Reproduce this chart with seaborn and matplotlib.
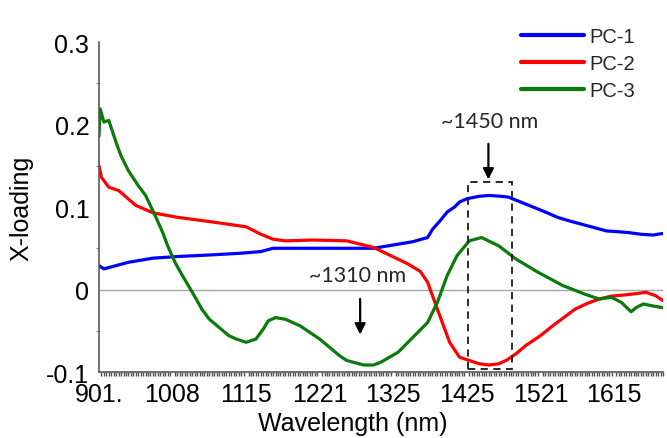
import matplotlib
matplotlib.use("Agg")
import matplotlib.pyplot as plt
import seaborn as sns
import pandas as pd
from matplotlib.ticker import MultipleLocator, FixedLocator, FixedFormatter

# x is the band index (the original is a category axis of spectral bands)
tick_bands = [0, 30, 60, 90, 120, 150, 180, 210]
tick_labels = ['901.', '1008', '1115', '1221', '1325', '1425', '1521', '1615']
y_ticks = [-0.1, 0, 0.1, 0.2, 0.3]
y_labels = ['-0.1', '0', '0.1', '0.2', '0.3']

pc1_band = [0, 2, 12, 22, 32, 46, 58, 66, 71, 76, 90, 112, 118, 128, 134, 136,
            139, 142, 145, 147, 150, 155, 159, 164, 167, 172, 177, 182, 187, 192,
            197, 202, 207, 212, 216, 221, 226, 230]
pc1_val = [0.029, 0.025, 0.033, 0.038, 0.040, 0.042, 0.044, 0.046, 0.050, 0.050,
           0.050, 0.050, 0.053, 0.058, 0.063, 0.073, 0.083, 0.094, 0.100, 0.106,
           0.110, 0.113, 0.114, 0.113, 0.112, 0.106, 0.100, 0.094, 0.0875, 0.083,
           0.079, 0.075, 0.071, 0.070, 0.069, 0.067, 0.066, 0.068]

pc2_band = [0, 1, 4, 8, 15, 22, 32, 46, 60, 66, 71, 76, 87, 101, 112, 119, 126,
            131, 134, 136, 139, 143, 147, 151, 155, 159, 163, 166, 170, 174, 180,
            185, 190, 194, 199, 204, 209, 214, 219, 223, 227, 230]
pc2_val = [0.150, 0.136, 0.124, 0.120, 0.102, 0.093, 0.0875, 0.082, 0.076, 0.067,
           0.061, 0.059, 0.060, 0.059, 0.051, 0.041, 0.031, 0.022, 0.009, -0.0075,
           -0.032, -0.064, -0.082, -0.086, -0.090, -0.0915, -0.090, -0.086, -0.078,
           -0.068, -0.056, -0.044, -0.033, -0.024, -0.017, -0.0115, -0.008, -0.0067,
           -0.005, -0.0034, -0.0075, -0.0135]

pc3_band = [0, 0.5, 2, 4, 7, 9, 12, 16, 19, 23, 26, 28, 31, 34, 38, 42, 45, 49,
            53, 56, 60, 64, 67, 69, 72, 76, 82, 90, 98, 101, 108, 112, 115, 122,
            128, 134, 138, 142, 146, 151, 156, 163, 170, 179, 189, 198, 204, 209,
            213, 217, 219, 222, 226, 230]
pc3_val = [0.186, 0.219, 0.203, 0.205, 0.178, 0.162, 0.144, 0.126, 0.114, 0.089,
           0.069, 0.053, 0.033, 0.017, -0.003, -0.024, -0.036, -0.046, -0.056,
           -0.060, -0.064, -0.060, -0.048, -0.038, -0.034, -0.036, -0.044, -0.060,
           -0.080, -0.086, -0.0915, -0.0915, -0.088, -0.076, -0.058, -0.040,
           -0.0155, 0.017, 0.041, 0.059, 0.063, 0.053, 0.037, 0.021, 0.005,
           -0.0055, -0.0115, -0.0095, -0.0155, -0.027, -0.022, -0.0175, -0.020,
           -0.022]

series_names = ['PC-1', 'PC-2', 'PC-3']
colors = {'PC-1': '#0000ff', 'PC-2': '#ff0000', 'PC-3': '#0a7a0a'}

df = pd.concat([
    pd.DataFrame({'band': pc1_band, 'loading': pc1_val, 'PC': 'PC-1'}),
    pd.DataFrame({'band': pc2_band, 'loading': pc2_val, 'PC': 'PC-2'}),
    pd.DataFrame({'band': pc3_band, 'loading': pc3_val, 'PC': 'PC-3'}),
])

sns.set_style("white")
plt.rcParams['font.family'] = ['Liberation Sans', 'DejaVu Sans']

fig = plt.figure(figsize=(6.67, 4.39), dpi=100)
ax = fig.add_axes([0.1484, 0.1503, 0.8456, 0.7517])

sns.lineplot(data=df, x='band', y='loading', hue='PC', hue_order=series_names,
             palette=colors, lw=2.3, estimator=None, ax=ax)

ax.axhline(0, color='#a6a6a6', lw=1, zorder=0)

ax.set_xlim(0, 230)
ax.set_ylim(-0.1, 0.3)
ax.xaxis.set_major_locator(FixedLocator(tick_bands))
ax.xaxis.set_major_formatter(FixedFormatter(tick_labels))
ax.xaxis.set_minor_locator(MultipleLocator(1))
ax.yaxis.set_major_locator(FixedLocator(y_ticks))
ax.yaxis.set_major_formatter(FixedFormatter(y_labels))
ax.yaxis.set_minor_locator(MultipleLocator(0.05))
ax.tick_params(axis='both', which='major', labelsize=18, colors='#595959',
               labelcolor='black', direction='out', length=4, width=1, pad=3)
ax.tick_params(axis='x', which='minor', direction='out', length=3, width=1,
               colors='#505050', bottom=True)
ax.tick_params(axis='y', which='minor', direction='out', length=2, width=0.8,
               colors='#808080', left=True)

sns.despine(ax=ax)
for side in ['left', 'bottom']:
    ax.spines[side].set_color('#595959')
    ax.spines[side].set_linewidth(1.2)

ax.set_xlabel('Wavelength (nm)', fontsize=18, color='black')
ax.set_ylabel('X-loading', fontsize=18, color='black')
ax.xaxis.set_label_coords(0.45, -0.117)
ax.yaxis.set_label_coords(-0.117, 0.5)

# dashed box around the ~1450 nm feature
ax.add_patch(plt.Rectangle((150.6, -0.096), 18, 0.226, fill=False, ls=(0, (4, 3)),
                           lw=1.3, edgecolor='#1a1a1a', zorder=5))

ax.annotate('', xy=(158.8, 0.130), xytext=(158.8, 0.180),
            arrowprops=dict(arrowstyle='-|>', color='black', lw=1.6, mutation_scale=16))
ax.text(159.5, 0.204, '~1450 nm', fontsize=15.5, ha='center', va='center',
        family=['Lato', 'DejaVu Sans'])

ax.annotate('', xy=(106.5, -0.058), xytext=(106.5, -0.008),
            arrowprops=dict(arrowstyle='-|>', color='black', lw=1.6, mutation_scale=16))
ax.text(105.5, 0.0176, '~1310 nm', fontsize=15.5, ha='center', va='center',
        family=['Lato', 'DejaVu Sans'])

leg = ax.legend(loc='upper right', bbox_to_anchor=(0.965, 0.955),
                bbox_transform=fig.transFigure, frameon=False, fontsize=14.5,
                handlelength=3.1, handletextpad=0.3, labelspacing=0.4,
                borderaxespad=0)
for line in leg.get_lines():
    line.set_linewidth(3)

fig.savefig('out.png', dpi=100)
